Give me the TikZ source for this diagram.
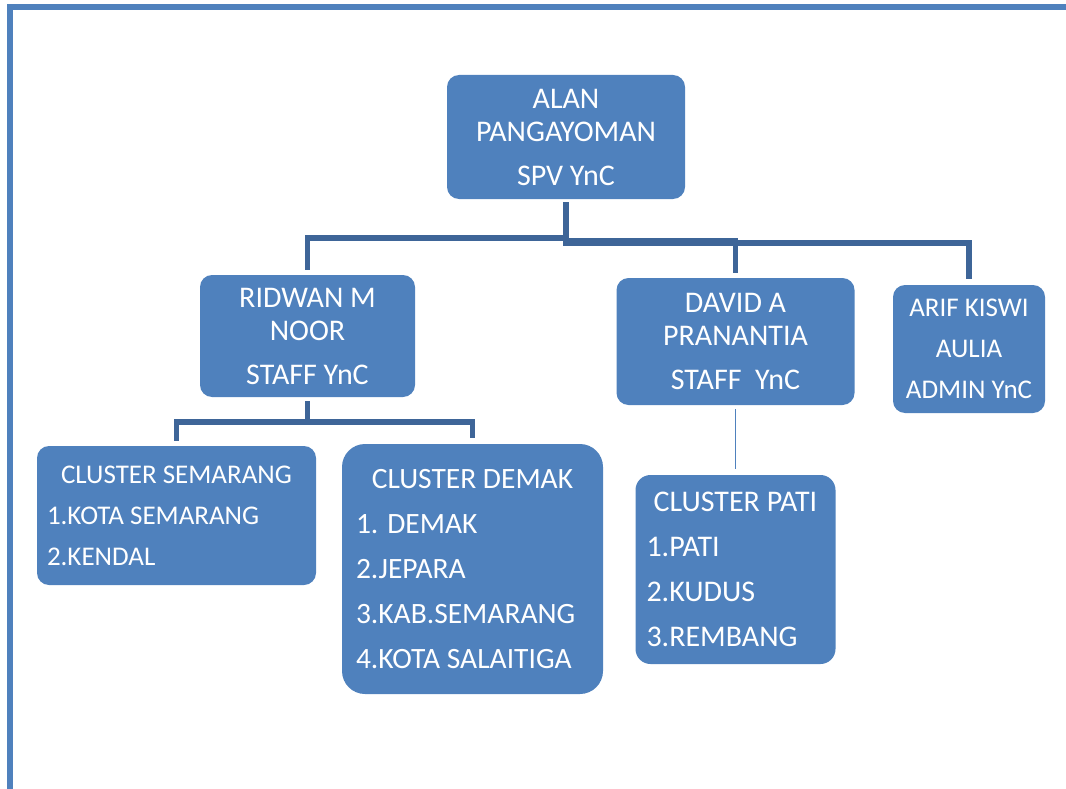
\documentclass[tikz,border=0pt]{standalone}
\usepackage{fontspec}
\setmainfont{Carlito}
\usetikzlibrary{positioning, calc}
\definecolor{boxblue}{RGB}{79,129,189}
\definecolor{lineblue}{RGB}{62,101,152}

\begin{document}
\begin{tikzpicture}[x=1pt, y=-1pt,
    orgbox/.style={fill=boxblue, text=white, rounded corners=12pt, inner sep=0pt,
        align=center, font=\fontsize{30}{33}\selectfont},
    listbox/.style={fill=boxblue, text=white, align=left, inner ysep=0pt},
    branch/.style={draw=lineblue, line width=5.5pt}]
        % Page frame
        \useasboundingbox (0,0) rectangle (1066,789);
        \draw [boxblue, line width=5.5pt] (1066,7) -- (10,7) -- (10,789);

        % Top level
        \node [orgbox, minimum width=238pt, minimum height=124pt] (alan) at (566,137)
            {ALAN\\PANGAYOMAN\\[11pt]SPV YnC};

        % Second level
        \node [orgbox, minimum width=215pt, minimum height=122pt] (ridwan) at (307.5,336)
            {RIDWAN M\\NOOR\\[11pt]STAFF YnC};
        \node [orgbox, minimum width=238pt, minimum height=127pt] (david) at (735.5,341.5)
            {DAVID A\\PRANANTIA\\[11pt]STAFF~~YnC};
        \node [orgbox, minimum width=152pt, minimum height=128pt, font=\fontsize{27}{41}\selectfont] (arif) at (969,349)
            {ARIF KISWI\\AULIA\\ADMIN YnC};

        % Clusters
        \node [listbox, minimum width=279pt, minimum height=139pt, inner xsep=10pt,
            rounded corners=12pt, font=\fontsize{27}{41}\selectfont] (semarang) at (176.5,515.5)
            {\makebox[259pt][c]{CLUSTER SEMARANG}\\1.KOTA SEMARANG\\2.KENDAL};
        \node [listbox, minimum width=261pt, minimum height=250pt, inner xsep=14pt,
            rounded corners=23pt, font=\fontsize{29.5}{45}\selectfont] (demak) at (472.5,569)
            {\makebox[233pt][c]{CLUSTER DEMAK}\\1. DEMAK\\2.JEPARA\\3.KAB.SEMARANG\\4.KOTA SALAITIGA};
        \node [listbox, minimum width=200pt, minimum height=189pt, inner xsep=11pt,
            rounded corners=15pt, font=\fontsize{30}{45}\selectfont] (pati) at (735.5,569.5)
            {\makebox[178pt][c]{CLUSTER PATI}\\1.PATI\\2.KUDUS\\3.REMBANG};

        % Connectors
        \draw [branch, shorten <=3pt, shorten >=5pt] (alan.south) -- ++(0,39) -| (ridwan.north);
        \draw [branch, shorten <=3pt, shorten >=5pt] (alan.south) -- ++(0,42) -| (david.north);
        \draw [branch, shorten <=3pt, shorten >=6pt] (alan.south) -- ++(0,44) -| (arif.north);
        \draw [branch, shorten <=4pt, shorten >=5pt] (ridwan.south) -- ++(0,25) -| (semarang.north);
        \draw [branch, shorten <=4pt, shorten >=6pt] (ridwan.south) -- ++(0,25) -| (demak.north);
        \draw [boxblue, line width=1.5pt, shorten <=4pt, shorten >=6pt] (david.south) -- (pati.north);
    \end{tikzpicture}
\end{document}
